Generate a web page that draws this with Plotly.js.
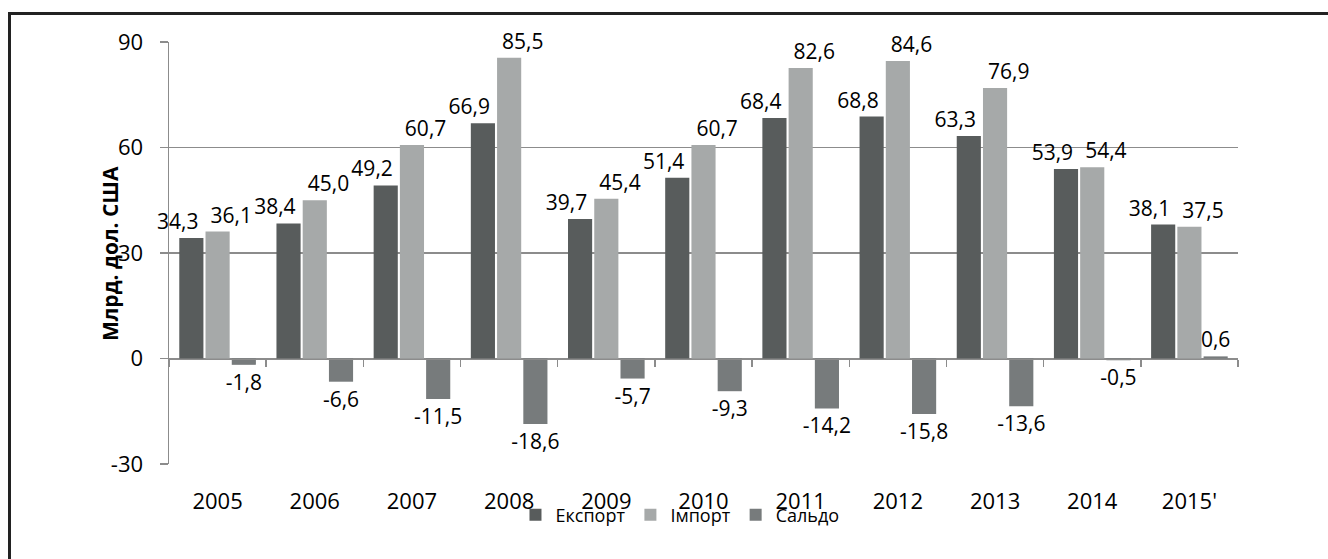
<!DOCTYPE html>
<html>
<head>
<meta charset="utf-8">
<script src="https://cdn.plot.ly/plotly-3.0.1.min.js"></script>
<style>
  html, body { margin: 0; padding: 0; background: #fff; }
  #wrap { position: relative; width: 1328px; height: 559px; overflow: hidden; }
  #chart { width: 1328px; height: 559px; }
  #frame { position: absolute; left: 8px; top: 12px; width: 1400px; height: 600px;
           border-left: 3px solid #222; border-top: 3px solid #222; pointer-events: none; }
</style>
</head>
<body>
<div id="wrap">
  <div id="chart"></div>
  <div id="frame"></div>
</div>
<script>
const categories = ['2005','2006','2007','2008','2009','2010','2011','2012','2013','2014',"2015'"];
const exportVals = [34.3, 38.4, 49.2, 66.9, 39.7, 51.4, 68.4, 68.8, 63.3, 53.9, 38.1];
const importVals = [36.1, 45.0, 60.7, 85.5, 45.4, 60.7, 82.6, 84.6, 76.9, 54.4, 37.5];
const saldoVals  = [-1.8, -6.6, -11.5, -18.6, -5.7, -9.3, -14.2, -15.8, -13.6, -0.5, 0.6];
const seriesNames = ['Експорт', 'Імпорт', 'Сальдо'];
const yTickVals = [-30, 0, 30, 60, 90];
const yTickText = ['-30', '0', '30', '60', '90'];
const yTitle = 'Млрд. дол. США';

const fmt = v => v.toFixed(1).replace('.', ',');
const NB = '\u00a0\u00a0\u00a0\u00a0\u00a0';
const FONT = 'Open Sans, sans-serif';
const lblFont = {family: FONT, size: 21, color: '#000'};
const tickFont = {family: FONT, size: 22, color: '#000'};

function barTrace(name, vals, color, labels) {
  return {
    type: 'bar', name: name, x: categories, y: vals,
    text: labels, textposition: 'outside', constraintext: 'none',
    textfont: lblFont, cliponaxis: false,
    marker: {color: color, line: {width: 0}},
    hoverinfo: 'skip'
  };
}

const traces = [
  barTrace(seriesNames[0], exportVals, '#585c5c', exportVals.map(v => fmt(v) + NB)),
  barTrace(seriesNames[1], importVals, '#a6a9a9', importVals.map(v => NB + fmt(v))),
  barTrace(seriesNames[2], saldoVals, '#777b7c', saldoVals.map(fmt)),
  {type: 'scatter', mode: 'markers', x: categories, y: categories.map(() => null),
   xaxis: 'x2', showlegend: false, hoverinfo: 'skip'}
];

const grid = '#8c8c8c';
const layout = {
  width: 1328, height: 559,
  margin: {l: 169, r: 90, t: 42, b: 95},
  paper_bgcolor: '#fff', plot_bgcolor: '#fff',
  barmode: 'group', bargap: 0.19, bargroupgap: 0.08,
  showlegend: true,
  legend: {orientation: 'h', x: 0.478, xanchor: 'center', y: -0.121, yanchor: 'middle',
           font: {family: FONT, size: 18, color: '#000'}, bgcolor: 'rgba(0,0,0,0)'},
  xaxis: {type: 'category', range: [-0.5, 10.5], showgrid: false, zeroline: false,
          showline: false, ticks: '', tickfont: tickFont, ticklabelstandoff: 22},
  xaxis2: {type: 'category', overlaying: 'x', anchor: 'free', position: 0.25,
           range: [-0.5, 10.5], showline: true, linecolor: grid, linewidth: 1.5,
           ticks: 'outside', tickson: 'boundaries', ticklen: 7, tickcolor: grid, tickwidth: 1.5,
           showticklabels: false, showgrid: false, zeroline: false},
  yaxis: {range: [-30, 90], tickvals: yTickVals, ticktext: yTickText,
          showgrid: true, gridcolor: grid, gridwidth: 1.5, zeroline: false,
          showline: true, linecolor: grid, linewidth: 1.5,
          ticks: 'outside', ticklen: 8, tickcolor: grid, tickwidth: 1.5,
          tickfont: tickFont, ticklabelstandoff: 12},
  annotations: [{
    text: '<b>' + yTitle + '</b>', xref: 'paper', yref: 'paper', x: -0.0552, y: 0.5,
    xanchor: 'center', yanchor: 'middle', textangle: -90, showarrow: false,
    font: {family: FONT, size: 21, color: '#000'}
  }]
};

Plotly.newPlot('chart', traces, layout, {displayModeBar: false, staticPlot: true});
</script>
</body>
</html>
